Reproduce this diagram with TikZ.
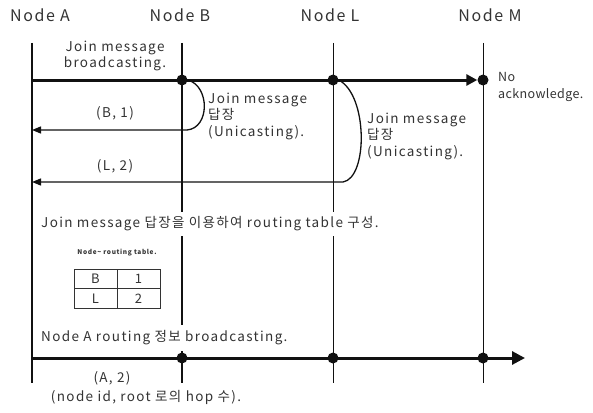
\documentclass[tikz,border=0pt]{standalone}
\usepackage{fontspec}
\setmainfont{Noto Sans CJK KR}[LetterSpace=10]
\usetikzlibrary{arrows.meta}
\definecolor{ink}{HTML}{111111}
\definecolor{txt}{HTML}{333333}
\begin{document}
\begin{tikzpicture}[x=1pt,y=-1pt,
  lifeline/.style={line width=1.4pt,ink},
  msgthick/.style={line width=3pt,ink},
  msgthin/.style={line width=1.3pt,ink},
  dotmark/.style={circle,fill=ink,inner sep=0pt,minimum size=11pt},
  hdr/.style={font=\fontsize{16}{16}\selectfont,txt,inner sep=0pt},
  lbl/.style={font=\fontsize{13.5}{16.5}\selectfont,txt,inner sep=1pt,align=left},
  cell/.style={draw=ink,line width=0.9pt,minimum width=43pt,minimum height=19.5pt,inner sep=0pt,font=\fontsize{13}{13}\selectfont,txt}]
\useasboundingbox (0,0) rectangle (593,412);
% header labels
\node[hdr] (hA) at (40,15) {Node A};
\node[hdr] (hB) at (180,15) {Node B};
\node[hdr] (hL) at (330,15) {Node L};
\node[hdr] (hM) at (490,15) {Node M};
% life lines
\coordinate (At) at (32,43);  \coordinate (Ab) at (32,383);
\coordinate (Bt) at (182,43); \coordinate (Bb) at (182,383);
\coordinate (Lt) at (333,43); \coordinate (Lb) at (333,383);
\coordinate (Mt) at (483,43); \coordinate (Mb) at (483,383);
\draw[lifeline] (At) -- (Ab);
\draw[lifeline] (Bt) -- (Bb);
\draw[lifeline,line width=1pt] (Lt) -- (Lb);
\draw[lifeline,line width=1pt] (Mt) -- (Mb);
% join broadcast
\coordinate (A1) at (32,80);
\node[dotmark] (dB1) at (182,80) {};
\node[dotmark] (dL1) at (333,80) {};
\node[dotmark] (dM1) at (483,80) {};
\draw[msgthick,-{Triangle[length=11pt,width=11pt]}] (A1) -- (dM1.west);
\node[lbl,align=center] (jb) at (115,56) {Join message\\broadcasting.};
\node[lbl,anchor=west,font=\fontsize{12.5}{17}\selectfont\addfontfeature{LetterSpace=3}] (noack) at (497,87) {No\\acknowledge.};
% unicast replies
\coordinate (Ar1) at (32,130);
\coordinate (Ar2) at (32,182);
\draw[msgthin,-{Triangle[length=9pt,width=7pt]}] (dB1.east) .. controls (210,86) and (210,128) .. (187,130) -- (Ar1);
\draw[msgthin,-{Triangle[length=9pt,width=7pt]}] (dL1.east) .. controls (368,95) and (368,178) .. (343,182) -- (Ar2);
\node[lbl] at (115,113) {(B, 1)};
\node[lbl] at (115,166) {(L, 2)};
\node[lbl,anchor=west] (rB) at (207,116) {Join message\\답장\\(Unicasting).};
\node[lbl,anchor=west] (rL) at (366,136) {Join message\\답장\\(Unicasting).};
% routing table
\node[lbl,fill=white,anchor=west,inner ysep=5pt] (rt) at (40,224) {Join message 답장을 이용하여 routing table 구성.};
\node[font=\fontsize{6.5}{6.5}\selectfont\bfseries,txt] (tt) at (117,253) {Node\textasciitilde{} routing table.};
\node[cell] (c11) at (95.5,279) {B};
\node[cell] (c12) at (138.5,279) {1};
\node[cell] (c21) at (95.5,298.5) {L};
\node[cell] (c22) at (138.5,298.5) {2};
% routing broadcast
\node[lbl,fill=white,anchor=west,inner ysep=6pt] (rb) at (40,338) {Node A routing 정보 broadcasting.};
\coordinate (A2) at (32,358);
\coordinate (E2) at (525,358);
\node[dotmark] (dB2) at (182,358) {};
\node[dotmark] (dL2) at (333,358) {};
\node[dotmark] (dM2) at (483,358) {};
\draw[msgthick,-{Triangle[length=13pt,width=13pt]}] (A2) -- (E2);
\node[lbl] at (112,378) {(A, 2)};
\node[lbl] at (146,397) {(node id, root 로의 hop 수).};
\end{tikzpicture}
\end{document}
